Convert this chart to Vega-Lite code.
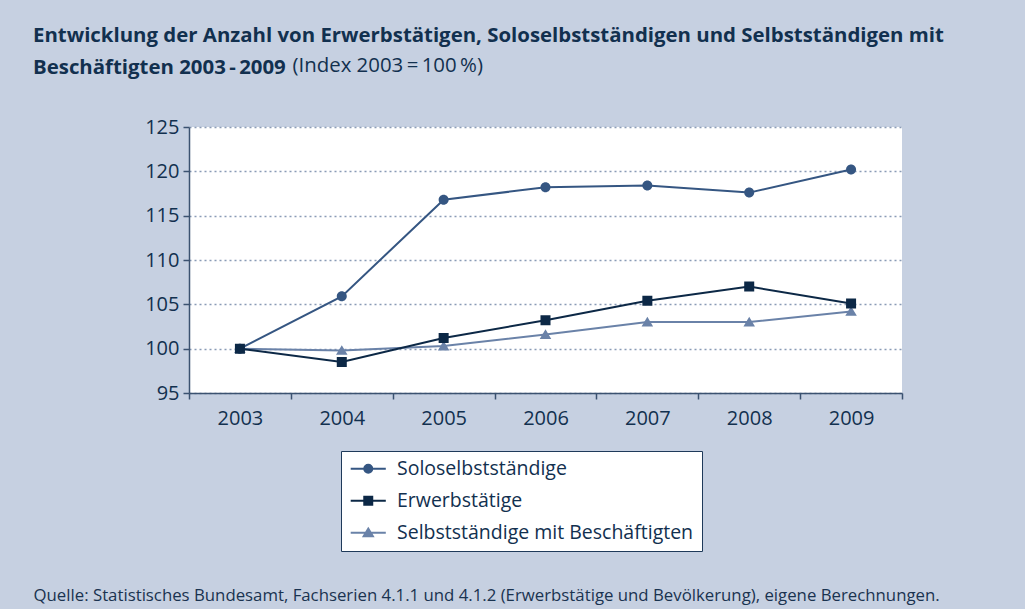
{
  "$schema": "https://vega.github.io/schema/vega-lite/v6.json",
  "width": 713,
  "height": 266,
  "autosize": {"type": "none"},
  "padding": {"left": 189, "top": 127, "right": 123, "bottom": 216},
  "background": "#c6d0e1",
  "config": {
    "font": "Open Sans",
    "view": {"fill": "white", "stroke": null}
  },
  "title": {
    "text": ["Entwicklung der Anzahl von Erwerbstätigen, Soloselbstständigen und Selbstständigen mit", "Beschäftigten 2003\u2009-\u20092009"],
    "anchor": "start",
    "frame": "group",
    "dx": -156,
    "dy": 64,
    "offset": 41,
    "font": "Open Sans",
    "fontSize": 20.4,
    "fontWeight": "bold",
    "color": "#12304f",
    "lineHeight": 32
  },
  "data": {
    "values": [
      {"year": "2003", "series": "Selbstständige mit Beschäftigten", "value": 100.0},
      {"year": "2004", "series": "Selbstständige mit Beschäftigten", "value": 99.8},
      {"year": "2005", "series": "Selbstständige mit Beschäftigten", "value": 100.3},
      {"year": "2006", "series": "Selbstständige mit Beschäftigten", "value": 101.6},
      {"year": "2007", "series": "Selbstständige mit Beschäftigten", "value": 103.0},
      {"year": "2008", "series": "Selbstständige mit Beschäftigten", "value": 103.0},
      {"year": "2009", "series": "Selbstständige mit Beschäftigten", "value": 104.2},
      {"year": "2003", "series": "Soloselbstständige", "value": 100.0},
      {"year": "2004", "series": "Soloselbstständige", "value": 105.9},
      {"year": "2005", "series": "Soloselbstständige", "value": 116.8},
      {"year": "2006", "series": "Soloselbstständige", "value": 118.2},
      {"year": "2007", "series": "Soloselbstständige", "value": 118.4},
      {"year": "2008", "series": "Soloselbstständige", "value": 117.6},
      {"year": "2009", "series": "Soloselbstständige", "value": 120.2},
      {"year": "2003", "series": "Erwerbstätige", "value": 100.0},
      {"year": "2004", "series": "Erwerbstätige", "value": 98.5},
      {"year": "2005", "series": "Erwerbstätige", "value": 101.2},
      {"year": "2006", "series": "Erwerbstätige", "value": 103.2},
      {"year": "2007", "series": "Erwerbstätige", "value": 105.4},
      {"year": "2008", "series": "Erwerbstätige", "value": 107.0},
      {"year": "2009", "series": "Erwerbstätige", "value": 105.1}
    ]
  },
  "encoding": {
    "x": {
      "field": "year",
      "type": "ordinal",
      "bandPosition": 0.5,
      "scale": {"type": "band", "paddingInner": 0, "paddingOuter": 0},
      "axis": {
        "labelAngle": 0,
        "tickBand": "extent",
        "tickSize": 6,
        "tickWidth": 1.5,
        "tickColor": "#3b5270",
        "domainColor": "#3b5270",
        "domainWidth": 1.5,
        "labelPadding": 9,
        "labelFont": "Open Sans",
        "labelFontSize": 20,
        "labelColor": "#12304f",
        "grid": false,
        "title": "Quelle: Statistisches Bundesamt, Fachserien 4.1.1 und 4.1.2 (Erwerbstätige und Bevölkerung), eigene Berechnungen.",
        "titleFont": "Open Sans",
        "titleFontSize": 16.8,
        "titleFontWeight": "normal",
        "titleColor": "#1a3350",
        "titleAnchor": "start",
        "titleAlign": "left",
        "titleBaseline": "alphabetic",
        "titleX": -156,
        "titleY": 207
      }
    },
    "y": {
      "field": "value",
      "type": "quantitative",
      "scale": {"domain": [95, 125], "nice": false, "zero": false},
      "axis": {
        "values": [95, 100, 105, 110, 115, 120, 125],
        "title": "(Index 2003\u2009=\u2009100\u2009%)",
        "titleFont": "Open Sans",
        "titleFontSize": 20.4,
        "titleFontWeight": "normal",
        "titleColor": "#12304f",
        "titleAngle": 0,
        "titleAnchor": "start",
        "titleAlign": "left",
        "titleBaseline": "alphabetic",
        "titleX": 103,
        "titleY": -56,
        "tickSize": 6,
        "tickWidth": 1.5,
        "tickColor": "#3b5270",
        "domainColor": "#3b5270",
        "domainWidth": 1.5,
        "labelPadding": 4,
        "labelFont": "Open Sans",
        "labelFontSize": 20,
        "labelColor": "#12304f",
        "grid": true,
        "gridColor": "#8a9bb6",
        "gridDash": [2, 3],
        "gridWidth": 1.5
      }
    },
    "color": {
      "field": "series",
      "type": "nominal",
      "scale": {
        "domain": ["Soloselbstständige", "Erwerbstätige", "Selbstständige mit Beschäftigten"],
        "range": ["#355682", "#0c2846", "#6a82a8"]
      },
      "legend": {
        "orient": "none",
        "legendX": 152,
        "legendY": 324,
        "title": null,
        "fillColor": "white",
        "strokeColor": "#1f3a5a",
        "padding": 8,
        "rowPadding": 11,
        "symbolSize": 77,
        "symbolStrokeWidth": 2,
        "symbolOffset": 9.5,
        "labelOffset": 19,
        "labelFont": "Open Sans",
        "labelFontSize": 19.5,
        "labelColor": "#12304f",
        "labelLimit": 400
      }
    }
  },
  "layer": [
    {
      "mark": {"type": "line", "strokeWidth": 2}
    },
    {
      "mark": {"type": "point", "filled": true, "opacity": 1, "size": 121, "strokeWidth": 0},
      "encoding": {
        "shape": {
          "field": "series",
          "type": "nominal",
          "scale": {
            "domain": ["Soloselbstständige", "Erwerbstätige", "Selbstständige mit Beschäftigten"],
            "range": [
              "M-4,0H4M0.91,0A0.91,0.91,0,1,1,-0.91,0A0.91,0.91,0,1,1,0.91,0Z",
              "M-4,0H4M-0.91,-0.91H0.91V0.91H-0.91Z",
              "M-4,0H4M0,-0.95L1.05,0.8H-1.05Z"
            ]
          },
          "legend": {
            "orient": "none",
            "legendX": 152,
            "legendY": 324,
            "title": null,
            "fillColor": "white",
            "strokeColor": "#1f3a5a",
            "padding": 8,
            "rowPadding": 11,
            "symbolSize": 77,
            "symbolStrokeWidth": 2,
            "symbolOffset": 9.5,
            "labelOffset": 19,
            "labelFont": "Open Sans",
            "labelFontSize": 19.5,
            "labelColor": "#12304f",
            "labelLimit": 400
          }
        }
      }
    }
  ]
}
